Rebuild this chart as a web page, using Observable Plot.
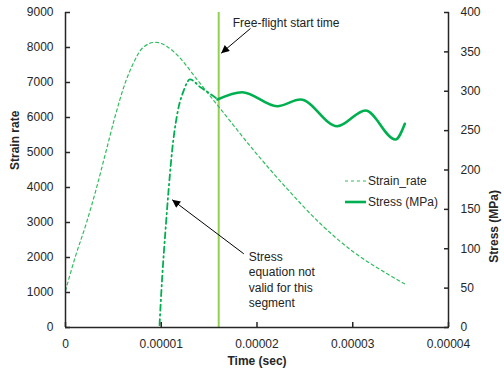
<!DOCTYPE html>
<html><head><meta charset="utf-8">
<script src="https://cdn.jsdelivr.net/npm/d3@7"></script>
<script src="https://cdn.jsdelivr.net/npm/@observablehq/plot@0.6"></script>
<style>
body{margin:0;background:#fff;}
#chart{position:relative;width:504px;height:374px;font-family:"Liberation Sans",Arial,sans-serif;color:#262626;}
.lg{position:absolute;left:345px;height:16px;line-height:16px;font-size:12px;white-space:nowrap;display:flex;align-items:center;}
.lg svg{margin-right:2px;}
</style></head><body><div id="chart"></div>
<script>
// Time values in units of 1e-5 s
const strainTime = [0, 0.10, 0.22, 0.325, 0.42, 0.515, 0.625, 0.70, 0.81, 0.94, 1.07, 1.2, 1.35, 1.5, 1.62, 1.967, 2.315, 2.663, 3.011, 3.36, 3.54];
const strainRate = [1050, 2000, 3000, 4000, 5000, 6000, 7000, 7500, 8000, 8150, 8010, 7690, 7170, 6650, 6240, 5057, 3963, 2963, 2151, 1534, 1250];

const stressPreTime = [0.982, 1.010, 1.044, 1.079, 1.114, 1.167, 1.235, 1.300, 1.410, 1.497, 1.587];
const stressPre = [3, 64, 123, 178, 225, 271, 301, 315, 305, 298, 290];

const stressTime = [1.587, 1.845, 2.211, 2.454, 2.838, 3.133, 3.446, 3.544];
const stressVal = [289.5, 298.8, 281.0, 289.5, 255.6, 275.6, 238.7, 258.7];

const freeFlightTime = 1.6e-5;

const xTicks = [0, 1e-5, 2e-5, 3e-5, 4e-5];
const xTickLabels = ["0", "0.00001", "0.00002", "0.00003", "0.00004"];
const yLeftTicks = [0, 1000, 2000, 3000, 4000, 5000, 6000, 7000, 8000, 9000];
const yRightTicks = [0, 50, 100, 150, 200, 250, 300, 350, 400];

const seriesNames = ["Strain_rate", "Stress (MPa)"];
const axisTitles = {x: "Time (sec)", yLeft: "Strain rate", yRight: "Stress (MPa)"};

const noteTexts = ["Free-flight start time", "Stress\nequation not\nvalid for this\nsegment"];
const noteTime = [1.747, 1.914];
const noteValue = [8723, 1386];
const arrowFrom = [[1.932, 8543], [1.862, 2106]];
const arrowTo = [[1.626, 7837], [1.114, 3649]];

const ratio = 9000 / 400;
const E = 1e-5;

const strainData = strainTime.map((t, i) => ({t: t * E, v: strainRate[i]}));
const preData = stressPreTime.map((t, i) => ({t: t * E, v: stressPre[i] * ratio}));
const stressData = stressTime.map((t, i) => ({t: t * E, v: stressVal[i] * ratio}));
const notes = noteTexts.map((s, i) => ({t: noteTime[i] * E, v: noteValue[i], text: s}));
const arrows = arrowFrom.map((f, i) => ({t1: f[0] * E, v1: f[1], t2: arrowTo[i][0] * E, v2: arrowTo[i][1]}));

const axisColor = "#262626";
const strainColor = "#2EBD5E";
const stressColor = "#00B050";
const ffColor = "#92D050";

const chart = Plot.plot({
  width: 504,
  height: 374,
  marginTop: 12,
  marginBottom: 47,
  marginLeft: 65,
  marginRight: 56,
  style: {fontFamily: '"Liberation Sans", Arial, sans-serif', fontSize: "12px", color: axisColor, background: "#fff"},
  x: {domain: [0, 4e-5]},
  y: {domain: [0, 9000]},
  marks: [
    Plot.ruleX([freeFlightTime], {stroke: ffColor, strokeWidth: 2}),
    Plot.line(strainData, {x: "t", y: "v", stroke: strainColor, strokeWidth: 1.2, strokeDasharray: "3,3", curve: "monotone-x"}),
    Plot.line(preData, {x: "t", y: "v", stroke: stressColor, strokeWidth: 1.8, strokeDasharray: "6,3.5,1.5,3.5", curve: "monotone-x"}),
    Plot.line(stressData, {x: "t", y: "v", stroke: stressColor, strokeWidth: 2.6, curve: "monotone-x"}),
    // axis lines
    Plot.ruleX([0, 4e-5], {stroke: axisColor, strokeWidth: 1.5}),
    Plot.ruleY([0], {stroke: axisColor, strokeWidth: 1.5}),
    // left axis
    Plot.axisY(yLeftTicks, {anchor: "left", tickSize: 5, dx: 5, fill: "none", label: null, stroke: axisColor, strokeWidth: 1.5}),
    Plot.axisY(yLeftTicks, {anchor: "left", tickSize: 0, tickPadding: 12, label: null, fontSize: 12, tickFormat: d => String(d)}),
    // right axis
    Plot.axisY(yRightTicks.map(v => v * ratio), {anchor: "right", tickSize: 5, dx: -5, fill: "none", label: null, stroke: axisColor, strokeWidth: 1.5}),
    Plot.axisY(yRightTicks.map(v => v * ratio), {anchor: "right", tickSize: 0, tickPadding: 12, label: null, fontSize: 12, tickFormat: d => String(Math.round(d / ratio))}),
    // x axis
    Plot.axisX(xTicks, {anchor: "bottom", tickSize: 5, dy: -5, fill: "none", label: null, stroke: axisColor, strokeWidth: 1.5}),
    Plot.axisX(xTicks, {anchor: "bottom", tickSize: 0, tickPadding: 12, label: null, fontSize: 12, tickFormat: d => xTickLabels[xTicks.indexOf(d)]}),
    // axis titles
    Plot.text([axisTitles.yLeft], {text: d => d, frameAnchor: "left", rotate: -90, dx: -50, fontWeight: "bold", fontSize: 12}),
    Plot.text([axisTitles.yRight], {text: d => d, frameAnchor: "right", rotate: -90, dx: 46, dy: 20, fontWeight: "bold", fontSize: 12}),
    Plot.text([axisTitles.x], {text: d => d, frameAnchor: "bottom", dy: 37, fontWeight: "bold", fontSize: 12}),
    // annotations
    Plot.link(arrows, {x1: "t1", y1: "v1", x2: "t2", y2: "v2", stroke: "#000", strokeWidth: 1, className: "ann-arrow"}),
    Plot.text(notes, {x: "t", y: "v", text: "text", textAnchor: "start", lineAnchor: "middle", lineHeight: 1.3, fontSize: 12, fill: "#222"})
  ]
});

const host = document.getElementById("chart");
host.appendChild(chart);
const svg = chart.tagName.toLowerCase() === "svg" ? chart : chart.querySelector("svg");
const ns = "http://www.w3.org/2000/svg";
const defs = document.createElementNS(ns, "defs");
defs.innerHTML = '<marker id="ah" viewBox="0 0 10 10" refX="10" refY="5" markerWidth="9" markerHeight="8" markerUnits="userSpaceOnUse" orient="auto"><path d="M0,0L10,5L0,10z" fill="#000"/></marker>';
svg.prepend(defs);
svg.querySelectorAll(".ann-arrow path").forEach(p => p.setAttribute("marker-end", "url(#ah)"));

// legend (inside plot area)
const legendRows = [
  {name: seriesNames[0], dash: "3,3", w: 1.2, color: strainColor, top: 173},
  {name: seriesNames[1], dash: null, w: 2.6, color: stressColor, top: 194}
];
legendRows.forEach(r => {
  const div = document.createElement("div");
  div.className = "lg";
  div.style.top = r.top + "px";
  div.innerHTML = `<svg width="21" height="10"><line x1="0" x2="21" y1="5" y2="5" stroke="${r.color}" stroke-width="${r.w}" ${r.dash ? `stroke-dasharray="${r.dash}"` : ""}/></svg><span>${r.name}</span>`;
  host.appendChild(div);
});
</script>
</body></html>
